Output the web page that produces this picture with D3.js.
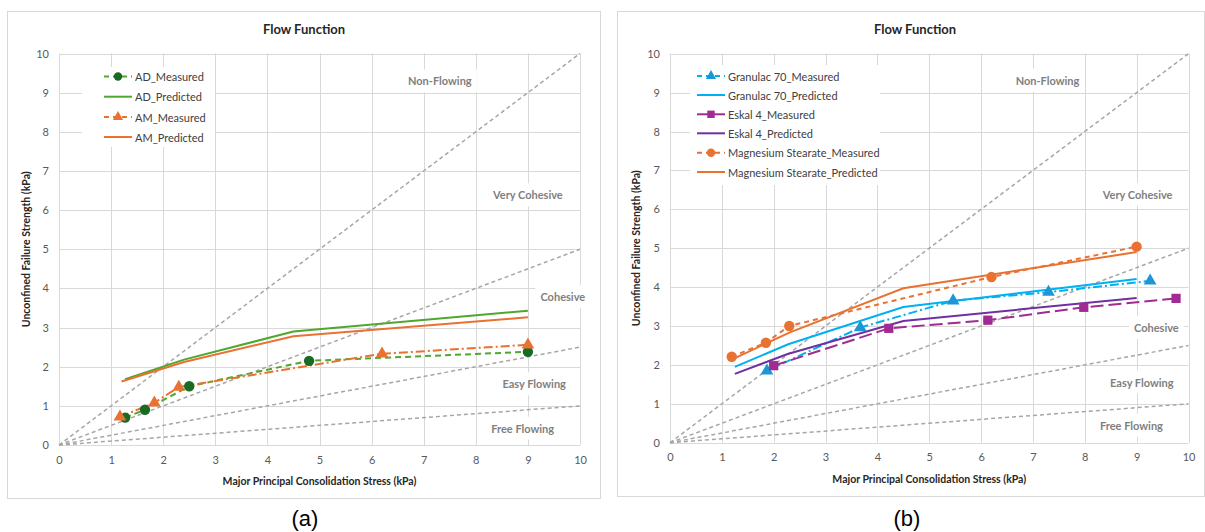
<!DOCTYPE html>
<html>
<head>
<meta charset="utf-8">
<script src="https://cdn.jsdelivr.net/npm/d3@7"></script>
<style>
  body { margin: 0; background: #fff; }
  svg { font-family: Lato, "Open Sans", sans-serif; }
</style>
</head>
<body>
<svg id="fig" width="1205" height="532"></svg>
<script>
// ---- data (kPa) ----
const xTicks = [0, 1, 2, 3, 4, 5, 6, 7, 8, 9, 10];
const yTicks = [0, 1, 2, 3, 4, 5, 6, 7, 8, 9, 10];

// flowability boundaries: ffc = sigma1 / sigmac
const ffcLines = [1, 2, 4, 10];
const regionNames = ["Non-Flowing", "Very Cohesive", "Cohesive", "Easy Flowing", "Free Flowing"];
const regionPosA = [[7.31, 9.3], [9.0, 6.39], [9.67, 3.8], [9.12, 1.56], [8.9, 0.43]];
const regionPosB = [[7.28, 9.32], [9.02, 6.39], [9.38, 2.96], [9.1, 1.56], [8.9, 0.45]];

// chart (a)
const adMeasured = [[1.27, 0.7], [1.65, 0.9], [2.5, 1.5], [4.8, 2.15], [9.0, 2.38]];
const adPredicted = [[1.27, 1.68], [2.4, 2.18], [4.5, 2.9], [9.0, 3.43]];
const amMeasured = [[1.17, 0.72], [1.83, 1.08], [2.3, 1.48], [6.2, 2.33], [9.0, 2.56]];
const amPredicted = [[1.2, 1.62], [2.4, 2.12], [4.5, 2.78], [9.0, 3.26]];

// chart (b)
const granMeasured = [[1.87, 1.85], [3.67, 2.96], [5.46, 3.65], [7.3, 3.87], [9.26, 4.16]];
const granPredicted = [[1.25, 1.95], [2.28, 2.53], [4.5, 3.49], [9.0, 4.21]];
const eskalMeasured = [[2.0, 1.98], [4.22, 2.94], [6.13, 3.15], [7.98, 3.48], [9.76, 3.71]];
const eskalPredicted = [[1.25, 1.77], [2.27, 2.28], [4.5, 3.13], [9.0, 3.72]];
const msMeasured = [[1.19, 2.21], [1.85, 2.57], [2.3, 3.0], [6.2, 4.26], [9.0, 5.04]];
const msPredicted = [[1.2, 2.14], [2.3, 2.83], [4.5, 3.97], [9.0, 4.9]];

const svg = d3.select("#fig");

// panel frames
const panels = [[7, 11, 593, 487], [617, 11, 587, 485]];
svg.selectAll("rect.panel").data(panels).join("rect")
    .attr("class", "panel")
    .attr("x", d => d[0] + 0.5).attr("y", d => d[1] + 0.5)
    .attr("width", d => d[2]).attr("height", d => d[3])
    .attr("fill", "#fff").attr("stroke", "#d9d9d9");

function drawChart(cfg) {
    const g = svg.append("g");
    const x = d3.scaleLinear().domain([0, 10]).range(cfg.xr);
    const y = d3.scaleLinear().domain([0, 10]).range(cfg.yr);

    // grid
    g.selectAll("line.vg").data(xTicks).join("line")
        .attr("x1", d => Math.round(x(d)) + 0.5).attr("x2", d => Math.round(x(d)) + 0.5)
        .attr("y1", y(0)).attr("y2", y(10))
        .attr("stroke", "#d9d9d9");
    g.selectAll("line.hg").data(yTicks).join("line")
        .attr("y1", d => Math.round(y(d)) + 0.5).attr("y2", d => Math.round(y(d)) + 0.5)
        .attr("x1", x(0)).attr("x2", x(10))
        .attr("stroke", "#d9d9d9");

    // axes (labels only)
    const ax = g.append("g").attr("transform", `translate(0,${y(0)})`)
        .call(d3.axisBottom(x).tickValues(xTicks).tickSize(0).tickPadding(11));
    const ay = g.append("g").attr("transform", `translate(${x(0)},0)`)
        .call(d3.axisLeft(y).tickValues(yTicks).tickSize(0).tickPadding(10));
    [ax, ay].forEach(a => {
        a.select(".domain").remove();
        a.selectAll("text").attr("fill", "#595959").style("font-size", "11px")
            .style("font-family", "Lato, sans-serif");
    });

    // ffc boundary lines
    g.selectAll("line.ffc").data(ffcLines).join("line")
        .attr("x1", x(0)).attr("y1", y(0))
        .attr("x2", x(10)).attr("y2", d => y(10 / d))
        .attr("stroke", "#a6a6a6").attr("stroke-width", 1.5)
        .attr("stroke-dasharray", "4,3");

    // region labels with white boxes
    const lab = g.selectAll("g.region").data(regionNames).join("g");
    lab.append("text")
        .attr("x", (d, i) => x(cfg.regions[i][0]))
        .attr("y", (d, i) => y(cfg.regions[i][1]))
        .attr("text-anchor", "middle").attr("dominant-baseline", "central")
        .attr("fill", "#7f7f7f").style("font-size", "11px").style("font-weight", "bold")
        .text(d => d);
    lab.each(function () {
        const b = d3.select(this).select("text").node().getBBox();
        d3.select(this).insert("rect", "text")
            .attr("x", b.x - 5).attr("y", b.y - 5)
            .attr("width", b.width + 10).attr("height", b.height + 10)
            .attr("fill", "#fff");
    });

    // series
    const line = d3.line().x(d => x(d[0])).y(d => y(d[1]));
    cfg.series.forEach(s => {
        g.append("path").datum(s.data)
            .attr("d", line).attr("fill", "none")
            .attr("stroke", s.color).attr("stroke-width", 2)
            .attr("stroke-dasharray", s.dash || null);
    });
    cfg.series.filter(s => s.marker).forEach(s => {
        const sym = d3.symbol().type(s.marker).size(s.marker === d3.symbolTriangle ? 70 : 85);
        g.selectAll(null).data(s.data).join("path")
            .attr("transform", d => `translate(${x(d[0])},${y(d[1])})`)
            .attr("d", sym).attr("fill", s.mcolor);
    });

    // legend
    const lg = g.append("g");
    lg.append("rect")
        .attr("x", cfg.legendBox[0]).attr("y", cfg.legendBox[1])
        .attr("width", cfg.legendBox[2]).attr("height", cfg.legendBox[3])
        .attr("fill", "#fff");
    cfg.series.forEach((s, i) => {
        const ly = cfg.legendY[i];
        const lx = cfg.legendX;
        lg.append("line")
            .attr("x1", lx).attr("x2", lx + 28).attr("y1", ly).attr("y2", ly)
            .attr("stroke", s.color).attr("stroke-width", 2)
            .attr("stroke-dasharray", s.legendDash || null);
        if (s.marker) {
            const sym = d3.symbol().type(s.marker).size(s.marker === d3.symbolTriangle ? 45 : 55);
            lg.append("path").attr("transform", `translate(${lx + 14},${ly})`)
                .attr("d", sym).attr("fill", s.mcolor);
        }
        lg.append("text").attr("x", lx + 31).attr("y", ly)
            .attr("dominant-baseline", "central")
            .attr("fill", "#404040").style("font-size", "11px")
            .text(s.name);
    });

    // titles
    const cx = (cfg.xr[0] + cfg.xr[1]) / 2;
    g.append("text").attr("x", cfg.titleX).attr("y", 29)
        .attr("text-anchor", "middle").attr("dominant-baseline", "central")
        .attr("fill", "#262626").style("font-size", "13px").style("font-weight", "bold")
        .text("Flow Function");
    g.append("text").attr("x", cx).attr("y", cfg.xTitleY)
        .attr("text-anchor", "middle").attr("dominant-baseline", "central")
        .attr("fill", "#262626").style("font-size", "10.5px").style("font-weight", "bold")
        .text("Major Principal Consolidation Stress (kPa)");
    g.append("text")
        .attr("transform", `translate(${cfg.yTitleX},${(cfg.yr[0] + cfg.yr[1]) / 2}) rotate(-90)`)
        .attr("text-anchor", "middle").attr("dominant-baseline", "central")
        .attr("fill", "#262626").style("font-size", "10.5px").style("font-weight", "bold")
        .text("Unconfined Failure Strength (kPa)");
    svg.append("text").attr("x", cfg.capX).attr("y", 518)
        .attr("text-anchor", "middle").attr("dominant-baseline", "central")
        .attr("fill", "#000").style("font-size", "22px")
        .style("font-family", "'Liberation Sans', Arial, sans-serif")
        .text(cfg.caption);
}

drawChart({
    xr: [59, 580], yr: [445, 53.5],
    regions: regionPosA,
    titleX: 304, xTitleY: 480.5, yTitleX: 26, capX: 305, caption: "(a)",
    legendBox: [82, 67, 133, 80], legendX: 104, legendY: [76.5, 96.7, 117, 137],
    series: [
        {name: "AD_Measured", data: adMeasured, color: "#4ea72e", mcolor: "#196b24",
            dash: "6,4", legendDash: "5,4", marker: d3.symbolCircle},
        {name: "AD_Predicted", data: adPredicted, color: "#4ea72e"},
        {name: "AM_Measured", data: amMeasured, color: "#e97132", mcolor: "#e97132",
            dash: "9,3,2,3", legendDash: "5,4", marker: d3.symbolTriangle},
        {name: "AM_Predicted", data: amPredicted, color: "#e97132"}
    ]
});

drawChart({
    xr: [670, 1188.5], yr: [442.7, 53.7],
    regions: regionPosB,
    titleX: 915, xTitleY: 479, yTitleX: 636, capX: 907, caption: "(b)",
    legendBox: [690, 65, 190, 120], legendX: 697, legendY: [76, 95, 114.3, 133.3, 152.7, 172],
    series: [
        {name: "Granulac 70_Measured", data: granMeasured, color: "#00b0f0", mcolor: "#1c96d4",
            dash: "9,3,2,3", legendDash: "5,4", marker: d3.symbolTriangle},
        {name: "Granulac 70_Predicted", data: granPredicted, color: "#00b0f0"},
        {name: "Eskal 4_Measured", data: eskalMeasured, color: "#a02b93", mcolor: "#a02b93",
            dash: "13,5", marker: d3.symbolSquare},
        {name: "Eskal 4_Predicted", data: eskalPredicted, color: "#7030a0"},
        {name: "Magnesium Stearate_Measured", data: msMeasured, color: "#e97132", mcolor: "#e97132",
            dash: "5,4", legendDash: "5,4", marker: d3.symbolCircle},
        {name: "Magnesium Stearate_Predicted", data: msPredicted, color: "#e97132"}
    ]
});
</script>
</body>
</html>
